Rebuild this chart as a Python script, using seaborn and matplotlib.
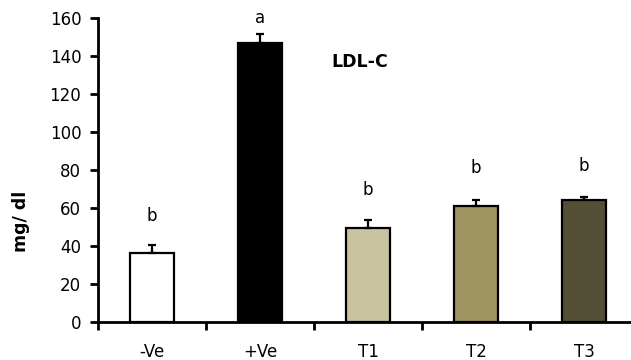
import matplotlib
matplotlib.use("Agg")
import matplotlib.pyplot as plt
import seaborn as sns
import pandas as pd
import numpy as np

groups = ["-Ve", "+Ve", "T1", "T2", "T3"]
means = [36.3, 147.0, 49.6, 61.2, 64.0]
errors = [4.2, 4.7, 4.2, 3.2, 1.9]
letters = ["b", "a", "b", "b", "b"]
letter_y = [56, 160, 69.5, 81, 82]
colors = ["#FFFFFF", "#000000", "#C9C3A0", "#A09460", "#545035"]

sns.set_theme(style="white")
plt.rcParams['font.family'] = ['DejaVu Sans']
plt.rcParams['text.color'] = 'black'
plt.rcParams['xtick.color'] = 'black'
plt.rcParams['ytick.color'] = 'black'
plt.rcParams['axes.labelcolor'] = 'black'

df = pd.DataFrame({"group": groups, "value": means})

fig = plt.figure(figsize=(6.31, 3.6), dpi=100)
ax = fig.add_axes([98/631, 1 - 322/360, (638-98)/631, (322-18)/360])

sns.barplot(data=df, x="group", y="value", hue="group", palette=colors,
            width=0.41, edgecolor="black", linewidth=1.6, legend=False, ax=ax,
            errorbar=None, saturation=1)

x = np.arange(len(groups))
ax.errorbar(x, means, yerr=[np.zeros(len(errors)), errors], fmt="none",
            ecolor="black", elinewidth=1.6, capsize=3, capthick=1.6, zorder=3)

for xi, (lt, ly) in enumerate(zip(letters, letter_y)):
    ax.text(xi, ly, lt, ha="center", va="center", fontsize=12, color="black",
            clip_on=False)

ax.text(1.92, 137, "LDL-C", fontsize=12.5, fontweight="bold", ha="center",
        va="center")

ax.set_xlim(-0.5, 4.5)
ax.set_ylim(0, 160)
ax.set_yticks(np.arange(0, 161, 20))
ax.set_xticks(x)
ax.set_xticklabels(groups, fontsize=12)
ax.set_xticks(np.arange(-0.5, 4.6, 1), minor=True)
ax.tick_params(axis="x", which="major", bottom=True, length=0, pad=15)
ax.tick_params(axis="x", which="minor", bottom=True, length=6, width=2,
               direction="out", color="black")
ax.tick_params(axis="y", which="major", left=True, length=6, width=2,
               direction="out", color="black", labelsize=12, pad=6)
ax.set_xlabel("")
ax.set_ylabel("mg/ dl", fontsize=12.5, fontweight="bold")
ax.yaxis.set_label_coords(-0.126, 0.33)

for side in ["top", "right"]:
    ax.spines[side].set_visible(False)
for side in ["left", "bottom"]:
    ax.spines[side].set_linewidth(2)
    ax.spines[side].set_color("black")

fig.savefig("out.png", dpi=100)
